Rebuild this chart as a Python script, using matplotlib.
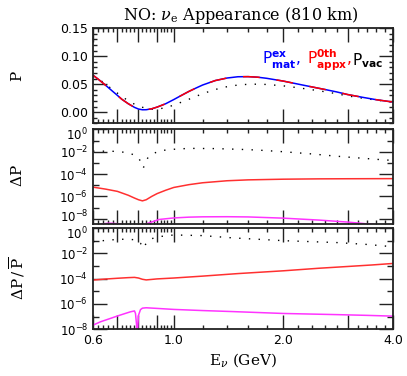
import numpy as np
import matplotlib
matplotlib.use("Agg")
import matplotlib.pyplot as plt
import matplotlib.transforms as mtransforms
from matplotlib.ticker import FixedLocator, FixedFormatter, NullFormatter

# top panel: probabilities
e_mat = [0.60, 0.62, 0.65, 0.68, 0.70, 0.72, 0.75, 0.78, 0.80, 0.82, 0.84, 0.87, 0.90, 0.95,
         1.00, 1.05, 1.10, 1.15, 1.20, 1.30, 1.40, 1.50, 1.60, 1.70, 1.80, 2.00, 2.20, 2.40,
         2.60, 2.80, 3.00, 3.30, 3.60, 4.00]
p_mat = [0.066, 0.059, 0.048, 0.037, 0.030, 0.023, 0.015, 0.0085, 0.0055, 0.0042, 0.0043, 0.0060,
         0.0090, 0.0150, 0.0225, 0.0300, 0.0370, 0.0430, 0.0485, 0.0565, 0.0610, 0.0633, 0.0635,
         0.0625, 0.0605, 0.0555, 0.0500, 0.0450, 0.0405, 0.0362, 0.0315, 0.0265, 0.0222, 0.0180]
e_vac = [0.60, 0.62, 0.65, 0.68, 0.70, 0.75, 0.80, 0.85, 0.88, 0.90, 0.95, 1.00, 1.10, 1.20,
         1.30, 1.40, 1.50, 1.60, 1.70, 1.80, 2.00, 2.20, 2.40, 2.60, 2.80, 3.00, 3.30, 3.60, 4.00]
p_vac = [0.064, 0.060, 0.050, 0.040, 0.034, 0.020, 0.0105, 0.0060, 0.0050, 0.0052, 0.0080,
         0.0125, 0.0230, 0.0330, 0.0405, 0.0455, 0.0485, 0.0498, 0.0500, 0.0495, 0.0470, 0.0435,
         0.0400, 0.0365, 0.0330, 0.0290, 0.0250, 0.0215, 0.0180]

# middle panel: log10 of Delta P
e_dvac = [0.60, 0.65, 0.70, 0.75, 0.78, 0.80, 0.815, 0.825, 0.835, 0.85, 0.88, 0.92, 1.00, 1.10,
          1.30, 1.50, 1.70, 2.00, 2.40, 2.80, 3.20, 3.60, 4.00]
lg_dvac = [-1.95, -1.95, -1.97, -2.10, -2.30, -2.55, -3.00, -3.45, -3.00, -2.50, -2.15, -1.90,
           -1.78, -1.70, -1.72, -1.78, -1.85, -2.00, -2.20, -2.40, -2.55, -2.68, -2.78]
e_dappx = [0.60, 0.65, 0.70, 0.75, 0.78, 0.80, 0.82, 0.84, 0.87, 0.90, 0.95, 1.00, 1.10, 1.20,
           1.40, 1.60, 2.00, 2.50, 3.00, 4.00]
lg_dappx = [-5.17, -5.35, -5.55, -5.90, -6.15, -6.30, -6.40, -6.30, -6.00, -5.75, -5.45, -5.20,
            -4.95, -4.78, -4.60, -4.52, -4.46, -4.43, -4.42, -4.41]
e_dnext = [0.60, 0.633, 0.65, 0.665, 0.69, 0.72, 0.75, 0.79, 0.82, 0.834, 0.86, 0.91, 1.00, 1.10,
           1.20, 1.40, 1.60, 2.00, 2.50, 3.00, 3.50, 4.00]
lg_dnext = [-8.80, -8.50, -8.43, -8.40, -8.43, -8.50, -8.80, -9.50, -8.90, -8.50, -8.35, -8.07,
            -7.93, -7.86, -7.83, -7.82, -7.84, -7.95, -8.12, -8.30, -8.50, -8.70]

# bottom panel: log10 of Delta P / Pbar
e_rvac = [0.60, 0.65, 0.70, 0.75, 0.79, 0.81, 0.825, 0.84, 0.86, 0.90, 1.00, 1.20, 1.45, 2.00,
          2.80, 3.40, 4.00]
lg_rvac = [-1.08, -0.98, -0.90, -0.88, -0.95, -1.20, -1.60, -1.20, -0.90, -0.70, -0.55, -0.60,
           -0.78, -1.00, -1.15, -1.30, -1.48]
e_rappx = [0.60, 0.65, 0.70, 0.75, 0.78, 0.80, 0.82, 0.84, 0.87, 0.90, 1.00, 1.20, 1.50, 2.00,
           2.50, 3.00, 3.50, 4.00]
lg_rappx = [-4.11, -4.03, -3.97, -3.92, -3.90, -3.95, -4.05, -4.10, -4.06, -4.02, -3.95, -3.80,
            -3.60, -3.38, -3.18, -3.04, -2.92, -2.80]
e_rnext = [0.60, 0.63, 0.67, 0.70, 0.73, 0.76, 0.78, 0.785, 0.79, 0.793, 0.797, 0.80, 0.81, 0.82,
           0.84, 0.90, 1.00, 1.20, 1.45, 2.00, 2.80, 3.40, 4.00]
lg_rnext = [-7.67, -7.40, -7.14, -6.95, -6.78, -6.62, -6.55, -6.75, -7.60, -9.00, -7.60, -6.90,
            -6.45, -6.33, -6.30, -6.35, -6.43, -6.52, -6.60, -6.75, -6.84, -6.90, -6.96]

x_major = [0.6, 0.7, 0.8, 0.9, 1.0, 2.0, 3.0, 4.0]
x_labels = ['0.6', '', '', '', '1.0', '2.0', '', '4.0']
x_minor = [0.62, 0.64, 0.66, 0.68, 0.72, 0.74, 0.76, 0.78, 0.82, 0.84, 0.86, 0.88, 0.92, 0.94,
           0.96, 0.98, 1.2, 1.4, 1.6, 1.8, 2.2, 2.4, 2.6, 2.8, 3.2, 3.4, 3.6, 3.8]

W, H = 407, 376
fig = plt.figure(figsize=(W / 100, H / 100), dpi=100)


def box(top, bottom):
    return [93 / W, 1 - bottom / H, 300 / W, (bottom - top) / H]


frame = '#222222'
ax1 = fig.add_axes(box(28.3, 123.3))
ax2 = fig.add_axes(box(129.4, 224.3))
ax3 = fig.add_axes(box(228.0, 329.3))

for ax in (ax1, ax2, ax3):
    ax.set_xscale('log')
    ax.set_xlim(0.6, 4.0)
    ax.xaxis.set_major_locator(FixedLocator(x_major))
    ax.xaxis.set_minor_locator(FixedLocator(x_minor))
    ax.xaxis.set_minor_formatter(NullFormatter())
    ax.xaxis.set_major_formatter(FixedFormatter(x_labels))
    ax.tick_params(which='both', direction='in', top=True, right=True, color=frame,
                   labelsize=9, width=1.0)
    ax.tick_params(which='major', length=10)
    ax.tick_params(which='minor', length=3)
    for s in ax.spines.values():
        s.set_linewidth(1.3)
        s.set_color(frame)
for ax in (ax1, ax2):
    ax.tick_params(labelbottom=False)

# panel 1
ax1.plot(e_vac, p_vac, color='black', lw=1.0, linestyle=(0, (1, 6)))
ax1.plot(e_mat, p_mat, color='blue', lw=1.1)
ax1.plot(e_mat, p_mat, color='red', lw=1.1, linestyle=(0, (11, 11)))
ax1.set_ylim(-0.02, 0.15)
ax1.set_yticks([0.0, 0.05, 0.10, 0.15], ['0.00', '0.05', '0.10', '0.15'])
ax1.yaxis.set_minor_locator(FixedLocator(np.arange(-0.02, 0.155, 0.01)))

ax1.text(0.562, 0.614, r'$\mathsf{P}^{\mathbf{ex}}_{\mathbf{mat}}$,', color='blue',
         transform=ax1.transAxes, fontsize=11, va='baseline')
ax1.text(0.712, 0.614, r'$\mathsf{P}^{\mathbf{0th}}_{\mathbf{appx}}$,', color='red',
         transform=ax1.transAxes, fontsize=11, va='baseline')
ax1.text(0.864, 0.614, r'$\mathsf{P}_{\mathbf{vac}}$', color='black',
         transform=ax1.transAxes, fontsize=11, va='baseline')

# log panels
log_major = [1e0, 1e-2, 1e-4, 1e-6, 1e-8]
log_labels = [r'$10^{0}$', r'$10^{-2}$', r'$10^{-4}$', r'$10^{-6}$', r'$10^{-8}$']
log_minor = [1e-1, 1e-3, 1e-5, 1e-7]

ax2.plot(e_dvac, 10 ** np.array(lg_dvac), color='black', lw=1.0, linestyle=(0, (1, 6)))
ax2.plot(e_dappx, 10 ** np.array(lg_dappx), color='#ff3030', lw=1.1)
ax2.plot(e_dnext, 10 ** np.array(lg_dnext), color='#ff33ff', lw=1.1)
ax2.set_yscale('log')
ax2.set_ylim(10 ** -8.5, 1.0)

ax3.plot(e_rvac, 10 ** np.array(lg_rvac), color='black', lw=1.0, linestyle=(0, (1, 6)))
ax3.plot(e_rappx, 10 ** np.array(lg_rappx), color='#ff3030', lw=1.1)
ax3.plot(e_rnext, 10 ** np.array(lg_rnext), color='#ff33ff', lw=1.1)
ax3.set_yscale('log')
ax3.set_ylim(1e-8, 1.0)

for ax in (ax2, ax3):
    ax.yaxis.set_major_locator(FixedLocator(log_major))
    ax.yaxis.set_major_formatter(FixedFormatter(log_labels))
    ax.yaxis.set_minor_locator(FixedLocator(log_minor))
    ax.yaxis.set_minor_formatter(NullFormatter())
    ax.tick_params(which='minor', axis='y', length=4)
    ax.tick_params(axis='y', labelsize=8.5)

# nudge the labels that meet at the panel boundary apart a little
down = mtransforms.ScaledTranslation(0, -3 / 72, fig.dpi_scale_trans)
up = mtransforms.ScaledTranslation(0, 2 / 72, fig.dpi_scale_trans)
for t in ax3.yaxis.get_majorticklabels()[:1]:
    t.set_transform(t.get_transform() + down)
for t in ax2.yaxis.get_majorticklabels()[-1:]:
    t.set_transform(t.get_transform() + up)
for t in ax2.yaxis.get_majorticklabels()[:1]:
    t.set_transform(t.get_transform() + down)

serif = dict(family='DejaVu Serif', math_fontfamily='dejavuserif')
fig.text(241 / W, 1 - 15 / H, r'NO: $\nu_{\rm e}$ Appearance (810 km)', ha='center',
         va='center', fontsize=11.5, **serif)
fig.text(17 / W, 1 - 76 / H, 'P', rotation=90, ha='center', va='center', fontsize=11, **serif)
fig.text(17 / W, 1 - 176 / H, r'$\Delta$P', rotation=90, ha='center', va='center',
         fontsize=11, **serif)
fig.text(17 / W, 1 - 278 / H, r'$\Delta\mathrm{P}\,/\,\overline{\mathrm{P}}$', rotation=90,
         ha='center', va='center', fontsize=11, **serif)
fig.text(243 / W, 1 - 360 / H, r'E$_\nu$ (GeV)', ha='center', va='center', fontsize=11, **serif)

fig.savefig('out.png', dpi=100)
